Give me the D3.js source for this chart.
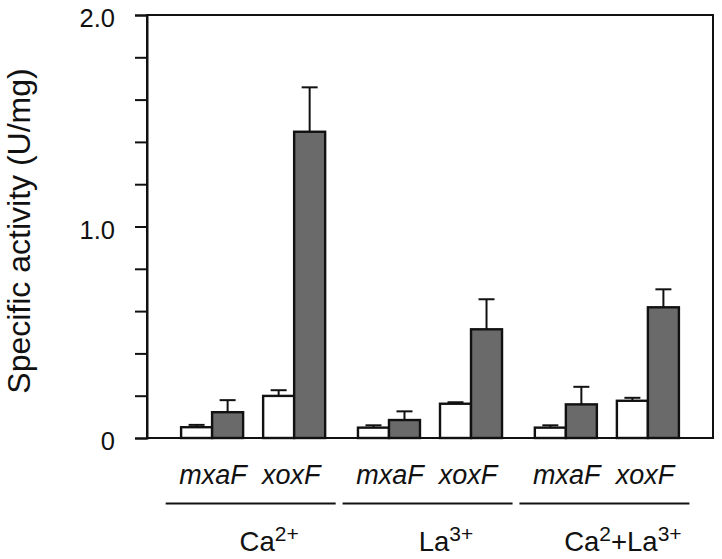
<!DOCTYPE html>
<html>
<head>
<meta charset="utf-8">
<script src="https://cdn.jsdelivr.net/npm/d3@7"></script>
<style>
  html, body { margin: 0; padding: 0; background: #fff; }
  svg { display: block; font-family: "Liberation Sans", Arial, Helvetica, sans-serif; }
</style>
</head>
<body>
<svg id="chart" width="722" height="559"></svg>
<script>
// ---- data ----
const groups = ["Ca", "La", "CaLa"];
const groupLabels = [
  [["Ca", false], ["2+", true]],
  [["La", false], ["3+", true]],
  [["Ca", false], ["2", true], ["+La", false], ["3+", true]]
];
const genes = ["mxaF", "xoxF"];
const series = ["open", "filled"];
// order: Ca-mxaF, Ca-xoxF, La-mxaF, La-xoxF, CaLa-mxaF, CaLa-xoxF
const openValues   = [0.051, 0.199, 0.049, 0.162, 0.049, 0.176];
const openErrors   = [0.011, 0.027, 0.011, 0.007, 0.011, 0.014];
const filledValues = [0.122, 1.448, 0.085, 0.514, 0.159, 0.618];
const filledErrors = [0.057, 0.210, 0.041, 0.142, 0.083, 0.085];
const yTicks = [0, 0.2, 0.4, 0.6, 0.8, 1.0, 1.2, 1.4, 1.6, 1.8, 2.0];
const yTickLabels = {0: "0", 1: "1.0", 2: "2.0"};
const yTitle = "Specific activity (U/mg)";

(function () {
// ---- build records ----
const records = [];
groups.forEach((g, gi) => {
  genes.forEach((gene, ji) => {
    const i = gi * genes.length + ji;
    records.push({group: g, gene, series: "open", value: openValues[i], err: openErrors[i]});
    records.push({group: g, gene, series: "filled", value: filledValues[i], err: filledErrors[i]});
  });
});

// ---- layout ----
const svg = d3.select("#chart");
const pLeft = 147, pRight = 713, pTop = 15, pBottom = 438;
const ink = "#111";

const x0 = d3.scaleBand().domain(groups).range([pLeft, pRight]).paddingInner(0).paddingOuter(0.1);
const x1 = d3.scaleBand().domain(genes).range([0, x0.bandwidth()]).paddingInner(0.244).paddingOuter(0.2);
const x2 = d3.scaleBand().domain(series).range([0, x1.bandwidth()]).padding(0);
const y = d3.scaleLinear().domain([0, 2]).range([pBottom, pTop]);

const fills = {open: "#ffffff", filled: "#6a6a6a"};

// bars
const g = svg.append("g");
g.selectAll("rect.bar").data(records).join("rect")
  .attr("class", "bar")
  .attr("x", d => x0(d.group) + x1(d.gene) + x2(d.series))
  .attr("y", d => y(d.value))
  .attr("width", x2.bandwidth())
  .attr("height", d => y(0) - y(d.value))
  .attr("fill", d => fills[d.series])
  .attr("stroke", ink)
  .attr("stroke-width", 2.4);

// error bars
const capW = 16;
const cx = d => x0(d.group) + x1(d.gene) + x2(d.series) + x2.bandwidth() / 2;
g.selectAll("line.err").data(records).join("line")
  .attr("class", "err")
  .attr("x1", cx).attr("x2", cx)
  .attr("y1", d => y(d.value)).attr("y2", d => y(d.value + d.err))
  .attr("stroke", ink).attr("stroke-width", 2);
g.selectAll("line.cap").data(records).join("line")
  .attr("class", "cap")
  .attr("x1", d => cx(d) - capW / 2).attr("x2", d => cx(d) + capW / 2)
  .attr("y1", d => y(d.value + d.err)).attr("y2", d => y(d.value + d.err))
  .attr("stroke", ink).attr("stroke-width", 2);

// frame
svg.append("rect")
  .attr("x", pLeft).attr("y", pTop)
  .attr("width", pRight - pLeft).attr("height", pBottom - pTop)
  .attr("fill", "none").attr("stroke", ink).attr("stroke-width", 2);

// y axis
const yAxis = d3.axisLeft(y)
  .tickValues(yTicks)
  .tickSize(12)
  .tickPadding(20)
  .tickFormat(v => {
    const k = Math.round(v * 10) / 10;
    return (k === 0 || k === 1 || k === 2) ? yTickLabels[k] : "";
  });
const ya = svg.append("g").attr("transform", `translate(${pLeft},0)`).call(yAxis);
ya.select(".domain").attr("stroke", ink).attr("stroke-width", 2);
ya.selectAll(".tick line").attr("stroke", ink).attr("stroke-width", 2);
ya.selectAll(".tick text")
  .attr("fill", "#111")
  .attr("font-size", 25.5)
  .attr("font-family", "Liberation Sans, Arial, sans-serif")
  .attr("dy", "0.46em");

// y title
svg.append("text")
  .attr("transform", "translate(30,231) rotate(-90)")
  .attr("text-anchor", "middle")
  .attr("font-size", 32)
  .attr("fill", "#111")
  .text(yTitle);

// gene labels
const geneLabelData = [];
groups.forEach(gr => genes.forEach(gene => geneLabelData.push({group: gr, gene})));
svg.selectAll("text.gene").data(geneLabelData).join("text")
  .attr("class", "gene")
  .attr("x", d => x0(d.group) + x1(d.gene) + x1.bandwidth() / 2 + (d.gene === "xoxF" ? -3 : 1))
  .attr("y", 484)
  .attr("text-anchor", "middle")
  .attr("font-size", 27)
  .attr("font-style", "italic")
  .attr("fill", "#111")
  .text(d => d.gene);

// group underline
svg.selectAll("line.grp").data(groups).join("line")
  .attr("class", "grp")
  .attr("x1", d => x0(d) + 1)
  .attr("x2", d => x0(d) + 171)
  .attr("y1", 503.5).attr("y2", 503.5)
  .attr("stroke", ink).attr("stroke-width", 2);

// group labels with superscripts
groups.forEach((gr, gi) => {
  const t = svg.append("text")
    .attr("x", x0(gr) + x0.bandwidth() / 2 + 16)
    .attr("y", 551)
    .attr("text-anchor", "middle")
    .attr("font-size", 27.5)
    .attr("fill", "#111");
  groupLabels[gi].forEach(([s, sup]) => {
    const ts = t.append("tspan").text(s);
    if (sup) ts.attr("font-size", 21).attr("baseline-shift", "10.5");
  });
});
})();
</script>
</body>
</html>
